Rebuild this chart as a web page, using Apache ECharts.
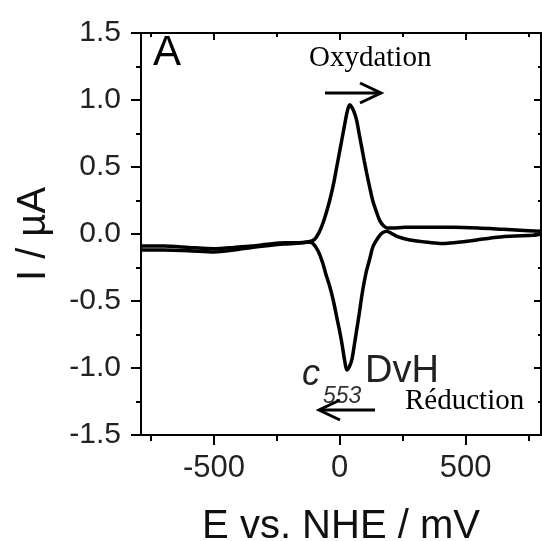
<!DOCTYPE html>
<html>
<head>
<meta charset="utf-8">
<script src="https://cdn.jsdelivr.net/npm/echarts@6/dist/echarts.min.js"></script>
<style>html,body{margin:0;padding:0;background:#fff}#c{width:542px;height:541px}</style>
</head>
<body>
<div id="c"></div>
<script>
// Forward sweep (negative -> positive), oxidation peak
const E_forward = [-790,-700,-600,-500,-420,-350,-280,-220,-170,-127,-100,-80,-67,-55,-40,-25,-12,0,8,18,28,35,40,47,55,67,77,87,97,107,120,131,145,159,175,190,210,260,350,450,550,650,750,800];
const I_forward = [-0.12,-0.12,-0.125,-0.135,-0.12,-0.1,-0.085,-0.075,-0.07,-0.06,-0.04,0.02,0.08,0.15,0.25,0.37,0.5,0.62,0.70,0.80,0.90,0.95,0.965,0.95,0.92,0.85,0.75,0.65,0.55,0.455,0.34,0.25,0.17,0.10,0.06,0.045,0.045,0.05,0.05,0.05,0.045,0.035,0.025,0.02];
// Reverse sweep (positive -> negative), reduction peak
const E_reverse = [800,770,700,647,600,544,480,420,397,340,278,230,205,187,170,159,145,131,120,107,97,87,77,67,57,48,38,28,20,8,-2,-12,-25,-40,-55,-67,-85,-107,-127,-170,-220,-280,-350,-420,-500,-600,-700,-790];
const I_reverse = [0.0,-0.01,-0.015,-0.02,-0.03,-0.045,-0.06,-0.07,-0.07,-0.06,-0.045,-0.02,0.005,0.02,0.01,-0.01,-0.05,-0.10,-0.18,-0.27,-0.36,-0.47,-0.6,-0.72,-0.84,-0.94,-0.99,-1.015,-0.95,-0.81,-0.71,-0.62,-0.5,-0.39,-0.30,-0.22,-0.13,-0.07,-0.06,-0.065,-0.065,-0.075,-0.09,-0.1,-0.11,-0.1,-0.09,-0.09];
const xMajorTicks = [-500, 0, 500];
const xMinorTicks = [-750, -250, 250, 750];
const xRange = [-790, 800];
const yRange = [-1.5, 1.5];
const yStep = 0.5;

const fwd = E_forward.map((e, i) => [e, I_forward[i]]);
const rev = E_reverse.map((e, i) => [e, I_reverse[i]]);

const lineStyle = {color: '#000', width: 2};
const txt = '#222';
function xAxisDef(opts) {
  return Object.assign({
    type: 'value', min: xRange[0], max: xRange[1],
    splitLine: {show: false},
    axisLine: {show: true, onZero: false, lineStyle: lineStyle},
    axisLabel: {show: false},
  }, opts);
}
const chart = echarts.init(document.getElementById('c'), null, {renderer: 'canvas'});
chart.setOption({
  animation: false,
  backgroundColor: '#fff',
  grid: {left: 141, right: 1, top: 33, bottom: 106, containLabel: false, outerBoundsMode: 'none'},
  xAxis: [
    xAxisDef({position: 'bottom',
      axisTick: {show: true, customValues: xMajorTicks, length: 10, lineStyle: lineStyle},
      axisLabel: {show: true, customValues: xMajorTicks, fontSize: 31, color: txt, fontFamily: 'Liberation Sans, Arial', margin: 18},
      name: 'E vs. NHE / mV', nameLocation: 'middle', nameGap: 72,
      nameTextStyle: {fontSize: 40, color: '#111', fontFamily: 'Liberation Sans, Arial'}}),
    xAxisDef({position: 'bottom',
      axisTick: {show: true, customValues: xMinorTicks, length: 6, lineStyle: lineStyle}}),
    xAxisDef({position: 'top',
      axisTick: {show: true, inside: true, customValues: xMajorTicks, length: 7, lineStyle: lineStyle}}),
    xAxisDef({position: 'top',
      axisTick: {show: true, inside: true, customValues: xMinorTicks, length: 4, lineStyle: lineStyle}})
  ],
  yAxis: [
    {type: 'value', position: 'left', min: yRange[0], max: yRange[1], interval: yStep,
      splitLine: {show: false},
      axisLine: {show: true, onZero: false, lineStyle: lineStyle},
      axisTick: {show: true, length: 10, lineStyle: lineStyle},
      minorTick: {show: true, splitNumber: 2, length: 5, lineStyle: lineStyle},
      axisLabel: {fontSize: 30, color: txt, fontFamily: 'Liberation Sans, Arial', margin: 20,
        formatter: v => v.toFixed(1)},
      name: 'I / µA', nameLocation: 'middle', nameGap: 87, nameRotate: 90,
      nameTextStyle: {fontSize: 40, color: '#111', fontFamily: 'Liberation Sans, Arial'}},
    {type: 'value', position: 'right', min: yRange[0], max: yRange[1], interval: yStep,
      splitLine: {show: false},
      axisLine: {show: true, onZero: false, lineStyle: lineStyle},
      axisTick: {show: true, inside: true, length: 7, lineStyle: lineStyle},
      minorTick: {show: true, splitNumber: 2, length: 3, lineStyle: lineStyle},
      axisLabel: {show: false}}
  ],
  series: [
    {type: 'line', data: fwd, xAxisIndex: 0, yAxisIndex: 0, showSymbol: false, smooth: 0.25,
      lineStyle: {color: '#000', width: 3.5}},
    {type: 'line', data: rev, xAxisIndex: 0, yAxisIndex: 0, showSymbol: false, smooth: 0.25,
      lineStyle: {color: '#000', width: 3.5}}
  ],
  graphic: [
    {type: 'text', x: 153, y: 53, style: {text: 'A', font: '42px "Liberation Sans", Arial', fill: '#000', verticalAlign: 'middle'}},
    {type: 'text', x: 309, y: 58, style: {text: 'Oxydation', font: '29px "Liberation Serif", "Times New Roman", serif', fill: '#000', verticalAlign: 'middle'}},
    {type: 'text', x: 405, y: 401, style: {text: 'Réduction', font: '29px "Liberation Serif", "Times New Roman", serif', fill: '#000', verticalAlign: 'middle'}},
    {type: 'text', x: 302, y: 375, style: {text: 'c', font: 'italic 36px "Liberation Sans", Arial', fill: '#222', verticalAlign: 'middle'}},
    {type: 'text', x: 323, y: 397, style: {text: '553', font: 'italic 23px "Liberation Sans", Arial', fill: '#333', verticalAlign: 'middle'}},
    {type: 'text', x: 365, y: 372, style: {text: 'DvH', font: '38px "Liberation Sans", Arial', fill: '#222', verticalAlign: 'middle'}},
    {type: 'polyline', shape: {points: [[325, 93], [380, 93]]}, style: {stroke: '#000', lineWidth: 3}},
    {type: 'polyline', shape: {points: [[360, 83], [381, 93], [360, 103]]}, style: {stroke: '#000', lineWidth: 3, fill: null}},
    {type: 'polyline', shape: {points: [[375, 410], [320, 410]]}, style: {stroke: '#000', lineWidth: 3}},
    {type: 'polyline', shape: {points: [[340, 400], [319, 410], [340, 420]]}, style: {stroke: '#000', lineWidth: 3, fill: null}}
  ]
});
</script>
</body>
</html>
